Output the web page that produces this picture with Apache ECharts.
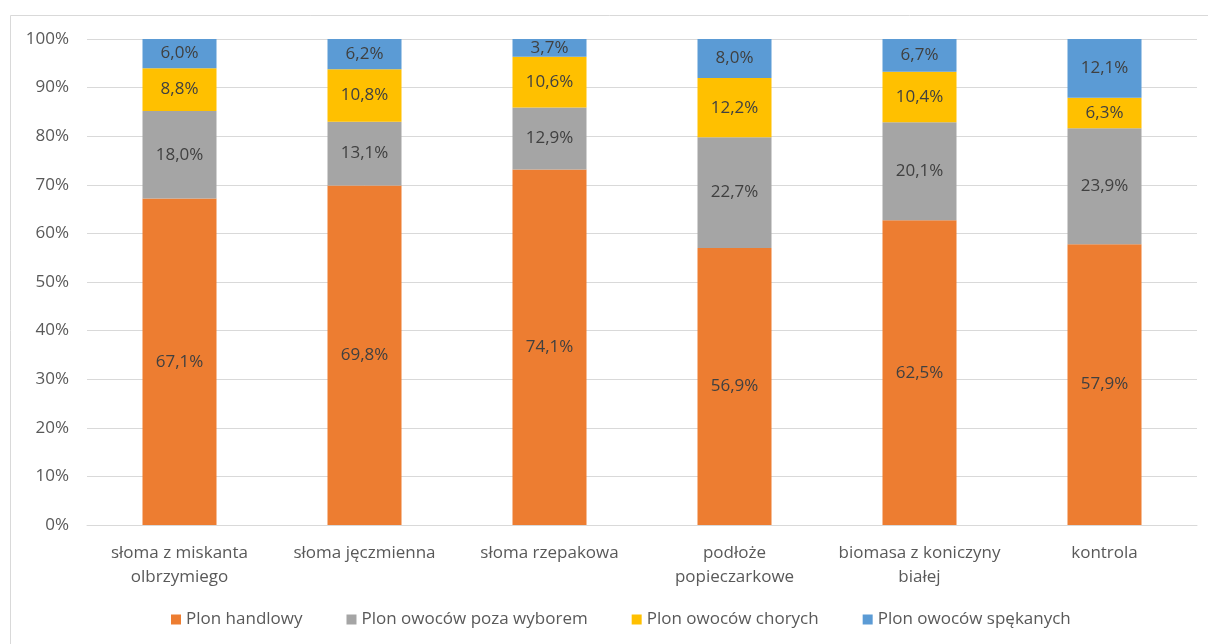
<!DOCTYPE html>
<html>
<head>
<meta charset="utf-8">
<script src="https://cdn.jsdelivr.net/npm/echarts@6/dist/echarts.min.js"></script>
<style>
html,body{margin:0;padding:0;background:#fff;}
#c{width:1208px;height:644px;}
</style>
</head>
<body>
<div id="c"></div>
<script>
const categories = ['słoma z miskanta\nolbrzymiego', 'słoma jęczmienna', 'słoma rzepakowa', 'podłoże\npopieczarkowe', 'biomasa z koniczyny\nbiałej', 'kontrola'];
const seriesNames = ['Plon handlowy', 'Plon owoców poza wyborem', 'Plon owoców chorych', 'Plon owoców spękanych'];
const handlowy = [67.1, 69.8, 74.1, 56.9, 62.5, 57.9];
const pozaWyborem = [18.0, 13.1, 12.9, 22.7, 20.1, 23.9];
const chorych = [8.8, 10.8, 10.6, 12.2, 10.4, 6.3];
const spekanych = [6.0, 6.2, 3.7, 8.0, 6.7, 12.1];
const yTicks = [0, 10, 20, 30, 40, 50, 60, 70, 80, 90, 100];

const colors = ['#ED7D31', '#A5A5A5', '#FFC000', '#5B9BD5'];
const font = '"Open Sans", Lato, sans-serif';
const fmt = v => v.toFixed(1).replace('.', ',') + '%';
const allSeries = [handlowy, pozaWyborem, chorych, spekanych];
const totals = categories.map((_, i) => allSeries.reduce((s, a) => s + a[i], 0));

const chart = echarts.init(document.getElementById('c'), null, {renderer: 'canvas'});
const mk = (name, data, i) => ({
  name, type: 'bar', stack: 'total', barWidth: 74,
  // 100% stacked: share of each category total, label shows the raw value
  data: data.map((v, j) => ({value: v / totals[j] * 100, raw: v})),
  itemStyle: {color: colors[i]},
  label: {show: true, position: 'inside', formatter: p => fmt(p.data.raw), color: '#404040', fontSize: 17, fontFamily: font},
  emphasis: {disabled: true}
});
chart.setOption({
  animation: false,
  color: colors,
  graphic: [{type: 'rect', shape: {x: 10.5, y: 15.5, width: 1210, height: 640}, style: {fill: 'none', stroke: '#D9D9D9', lineWidth: 1}, silent: true}],
  grid: {left: 87, right: 11, top: 39, bottom: 119},
  legend: {
    bottom: 11, left: 166, itemWidth: 10, itemHeight: 10, itemGap: 44,
    icon: 'rect',
    textStyle: {color: '#595959', fontSize: 17, fontFamily: font},
    data: seriesNames
  },
  xAxis: {
    type: 'category', data: categories,
    axisLine: {lineStyle: {color: '#D9D9D9'}},
    axisTick: {show: false},
    axisLabel: {color: '#595959', fontSize: 17, fontFamily: font, margin: 16, lineHeight: 24, interval: 0}
  },
  yAxis: {
    type: 'value', min: 0, max: 100, interval: 10,
    axisLine: {show: false}, axisTick: {show: false},
    splitLine: {lineStyle: {color: '#D9D9D9'}},
    axisLabel: {color: '#595959', fontSize: 17, fontFamily: font, margin: 18,
      formatter: v => yTicks.includes(v) ? v + '%' : ''}
  },
  series: [
    mk(seriesNames[0], handlowy, 0),
    mk(seriesNames[1], pozaWyborem, 1),
    mk(seriesNames[2], chorych, 2),
    mk(seriesNames[3], spekanych, 3)
  ]
});
</script>
</body>
</html>
